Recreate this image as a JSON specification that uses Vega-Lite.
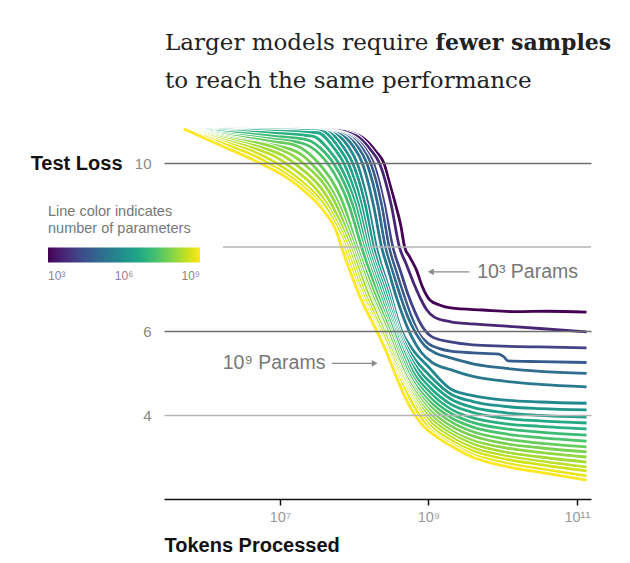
{
"$schema": "https://vega.github.io/schema/vega-lite/v6.json",
"width": 427,
"height": 378,
"autosize": {"type": "none"},
"padding": {"left": 164, "top": 121, "right": 39, "bottom": 64},
"background": "white",
"config": {
  "view": {"stroke": null},
  "axis": {"labelFont": "Liberation Sans", "titleFont": "Liberation Sans"},
  "legend": {"labelFont": "Liberation Sans", "titleFont": "Liberation Sans"}
},
"datasets": {
"curves": [
{"params":1e3,"tokens":5.13e5,"loss":10.81},{"params":1e3,"tokens":1.862e7,"loss":10.81},{"params":1e3,"tokens":5.623e7,"loss":10.79},{"params":1e3,"tokens":1.202e8,"loss":10.64},{"params":1e3,"tokens":1.995e8,"loss":10.26},{"params":1e3,"tokens":2.512e8,"loss":10.0},{"params":1e3,"tokens":3.02e8,"loss":9.5},{"params":1e3,"tokens":3.631e8,"loss":9.0},{"params":1e3,"tokens":4.266e8,"loss":8.5},{"params":1e3,"tokens":4.786e8,"loss":8.0},{"params":1e3,"tokens":5.623e8,"loss":7.76},{"params":1e3,"tokens":6.918e8,"loss":7.45},{"params":1e3,"tokens":8.318e8,"loss":7.05},{"params":1e3,"tokens":1.047e9,"loss":6.74},{"params":1e3,"tokens":1.413e9,"loss":6.62},{"params":1e3,"tokens":1.995e9,"loss":6.55},{"params":1e3,"tokens":5.37e9,"loss":6.5},{"params":1e3,"tokens":1.549e10,"loss":6.46},{"params":1e3,"tokens":3.981e10,"loss":6.47},{"params":1e3,"tokens":1.349e11,"loss":6.45},
{"params":4e3,"tokens":5.13e5,"loss":10.81},{"params":4e3,"tokens":1.778e7,"loss":10.81},{"params":4e3,"tokens":5.012e7,"loss":10.79},{"params":4e3,"tokens":1.072e8,"loss":10.65},{"params":4e3,"tokens":1.66e8,"loss":10.32},{"params":4e3,"tokens":2.188e8,"loss":10.0},{"params":4e3,"tokens":3.162e8,"loss":9.0},{"params":4e3,"tokens":4.074e8,"loss":8.0},{"params":4e3,"tokens":5.012e8,"loss":7.6},{"params":4e3,"tokens":6.31e8,"loss":7.15},{"params":4e3,"tokens":7.943e8,"loss":6.75},{"params":4e3,"tokens":9.55e8,"loss":6.5},{"params":4e3,"tokens":1.202e9,"loss":6.33},{"params":4e3,"tokens":1.995e9,"loss":6.22},{"params":4e3,"tokens":3.162e9,"loss":6.18},{"params":4e3,"tokens":1e10,"loss":6.12},{"params":4e3,"tokens":3.162e10,"loss":6.06},{"params":4e3,"tokens":1.349e11,"loss":5.98},
{"params":1.6e4,"tokens":5.13e5,"loss":10.81},{"params":1.6e4,"tokens":1.479e7,"loss":10.81},{"params":1.6e4,"tokens":3.89e7,"loss":10.79},{"params":1.6e4,"tokens":8.128e7,"loss":10.68},{"params":1.6e4,"tokens":1.38e8,"loss":10.36},{"params":1.6e4,"tokens":1.82e8,"loss":10.0},{"params":1.6e4,"tokens":2.57e8,"loss":9.0},{"params":1.6e4,"tokens":3.311e8,"loss":8.0},{"params":1.6e4,"tokens":4.169e8,"loss":7.45},{"params":1.6e4,"tokens":5.248e8,"loss":6.9},{"params":1.6e4,"tokens":6.607e8,"loss":6.45},{"params":1.6e4,"tokens":8.318e8,"loss":6.1},{"params":1.6e4,"tokens":1.122e9,"loss":5.86},{"params":1.6e4,"tokens":1.995e9,"loss":5.74},{"params":1.6e4,"tokens":3.981e9,"loss":5.67},{"params":1.6e4,"tokens":1e10,"loss":5.64},{"params":1.6e4,"tokens":3.162e10,"loss":5.62},{"params":1.6e4,"tokens":1.349e11,"loss":5.6},
{"params":5e4,"tokens":5.13e5,"loss":10.81},{"params":5e4,"tokens":1.318e7,"loss":10.81},{"params":5e4,"tokens":3.548e7,"loss":10.79},{"params":5e4,"tokens":7.413e7,"loss":10.69},{"params":5e4,"tokens":1.259e8,"loss":10.37},{"params":5e4,"tokens":1.66e8,"loss":10.0},{"params":5e4,"tokens":2.344e8,"loss":9.0},{"params":5e4,"tokens":2.951e8,"loss":8.0},{"params":5e4,"tokens":3.715e8,"loss":7.4},{"params":5e4,"tokens":4.677e8,"loss":6.85},{"params":5e4,"tokens":5.888e8,"loss":6.35},{"params":5e4,"tokens":7.413e8,"loss":5.95},{"params":5e4,"tokens":1e9,"loss":5.7},{"params":5e4,"tokens":1.413e9,"loss":5.58},{"params":5e4,"tokens":1.995e9,"loss":5.52},{"params":5e4,"tokens":3.981e9,"loss":5.48},{"params":5e4,"tokens":8.913e9,"loss":5.45},{"params":5e4,"tokens":1.047e10,"loss":5.38},{"params":5e4,"tokens":1.175e10,"loss":5.29},{"params":5e4,"tokens":3.162e10,"loss":5.27},{"params":5e4,"tokens":1.349e11,"loss":5.25},
{"params":1.26e5,"tokens":5.13e5,"loss":10.81},{"params":1.26e5,"tokens":1.148e7,"loss":10.81},{"params":1.26e5,"tokens":3.162e7,"loss":10.79},{"params":1.26e5,"tokens":6.607e7,"loss":10.7},{"params":1.26e5,"tokens":1.122e8,"loss":10.38},{"params":1.26e5,"tokens":1.479e8,"loss":10.0},{"params":1.26e5,"tokens":2.089e8,"loss":9.0},{"params":1.26e5,"tokens":2.63e8,"loss":8.0},{"params":1.26e5,"tokens":3.311e8,"loss":7.4},{"params":1.26e5,"tokens":4.169e8,"loss":6.85},{"params":1.26e5,"tokens":5.248e8,"loss":6.35},{"params":1.26e5,"tokens":6.761e8,"loss":5.95},{"params":1.26e5,"tokens":8.913e8,"loss":5.65},{"params":1.26e5,"tokens":1.259e9,"loss":5.47},{"params":1.26e5,"tokens":1.995e9,"loss":5.36},{"params":1.26e5,"tokens":3.981e9,"loss":5.22},{"params":1.26e5,"tokens":1e10,"loss":5.12},{"params":1.26e5,"tokens":3.162e10,"loss":5.04},{"params":1.26e5,"tokens":1.349e11,"loss":4.99},
{"params":2.5e5,"tokens":5.13e5,"loss":10.81},{"params":2.5e5,"tokens":1e7,"loss":10.81},{"params":2.5e5,"tokens":2.818e7,"loss":10.78},{"params":2.5e5,"tokens":5.754e7,"loss":10.71},{"params":2.5e5,"tokens":9.772e7,"loss":10.39},{"params":2.5e5,"tokens":1.288e8,"loss":10.0},{"params":2.5e5,"tokens":1.82e8,"loss":9.0},{"params":2.5e5,"tokens":2.344e8,"loss":8.0},{"params":2.5e5,"tokens":2.951e8,"loss":7.4},{"params":2.5e5,"tokens":3.715e8,"loss":6.8},{"params":2.5e5,"tokens":4.677e8,"loss":6.3},{"params":2.5e5,"tokens":6.026e8,"loss":5.85},{"params":2.5e5,"tokens":7.943e8,"loss":5.5},{"params":2.5e5,"tokens":1.122e9,"loss":5.25},{"params":2.5e5,"tokens":1.995e9,"loss":5.08},{"params":2.5e5,"tokens":3.981e9,"loss":4.92},{"params":2.5e5,"tokens":1e10,"loss":4.81},{"params":2.5e5,"tokens":3.162e10,"loss":4.73},{"params":2.5e5,"tokens":1.349e11,"loss":4.67},
{"params":6.3e5,"tokens":5.13e5,"loss":10.81},{"params":6.3e5,"tokens":8.913e6,"loss":10.8},{"params":6.3e5,"tokens":2.188e7,"loss":10.77},{"params":6.3e5,"tokens":4.898e7,"loss":10.72},{"params":6.3e5,"tokens":8.318e7,"loss":10.4},{"params":6.3e5,"tokens":1.096e8,"loss":10.0},{"params":6.3e5,"tokens":1.549e8,"loss":9.0},{"params":6.3e5,"tokens":1.995e8,"loss":8.0},{"params":6.3e5,"tokens":2.951e8,"loss":7.0},{"params":6.3e5,"tokens":4.365e8,"loss":6.0},{"params":6.3e5,"tokens":5.888e8,"loss":5.6},{"params":6.3e5,"tokens":1e9,"loss":5.15},{"params":6.3e5,"tokens":1.995e9,"loss":4.62},{"params":6.3e5,"tokens":3.981e9,"loss":4.46},{"params":6.3e5,"tokens":1e10,"loss":4.36},{"params":6.3e5,"tokens":3.162e10,"loss":4.31},{"params":6.3e5,"tokens":1.349e11,"loss":4.28},
{"params":1.26e6,"tokens":5.13e5,"loss":10.81},{"params":1.26e6,"tokens":7.943e6,"loss":10.8},{"params":1.26e6,"tokens":1.82e7,"loss":10.78},{"params":1.26e6,"tokens":4.266e7,"loss":10.74},{"params":1.26e6,"tokens":7.244e7,"loss":10.37},{"params":1.26e6,"tokens":9.55e7,"loss":10.0},{"params":1.26e6,"tokens":1.413e8,"loss":9.0},{"params":1.26e6,"tokens":1.82e8,"loss":8.0},{"params":1.26e6,"tokens":2.754e8,"loss":7.0},{"params":1.26e6,"tokens":4.074e8,"loss":6.0},{"params":1.26e6,"tokens":5.623e8,"loss":5.5},{"params":1.26e6,"tokens":1e9,"loss":4.97},{"params":1.26e6,"tokens":1.995e9,"loss":4.5},{"params":1.26e6,"tokens":3.981e9,"loss":4.32},{"params":1.26e6,"tokens":1e10,"loss":4.21},{"params":1.26e6,"tokens":3.162e10,"loss":4.15},{"params":1.26e6,"tokens":1.349e11,"loss":4.12},
{"params":2.5e6,"tokens":5.13e5,"loss":10.81},{"params":2.5e6,"tokens":3.162e6,"loss":10.79},{"params":2.5e6,"tokens":1.413e7,"loss":10.78},{"params":2.5e6,"tokens":3.715e7,"loss":10.75},{"params":2.5e6,"tokens":6.31e7,"loss":10.35},{"params":2.5e6,"tokens":8.318e7,"loss":10.0},{"params":2.5e6,"tokens":1.259e8,"loss":9.0},{"params":2.5e6,"tokens":1.66e8,"loss":8.0},{"params":2.5e6,"tokens":2.57e8,"loss":7.0},{"params":2.5e6,"tokens":3.89e8,"loss":6.0},{"params":2.5e6,"tokens":5.37e8,"loss":5.45},{"params":2.5e6,"tokens":7.943e8,"loss":5.0},{"params":2.5e6,"tokens":1e9,"loss":4.82},{"params":2.5e6,"tokens":1.995e9,"loss":4.38},{"params":2.5e6,"tokens":3.981e9,"loss":4.18},{"params":2.5e6,"tokens":1e10,"loss":4.06},{"params":2.5e6,"tokens":3.162e10,"loss":3.99},{"params":2.5e6,"tokens":1.349e11,"loss":3.95},
{"params":4e6,"tokens":5.13e5,"loss":10.81},{"params":4e6,"tokens":1.995e6,"loss":10.78},{"params":4e6,"tokens":7.943e6,"loss":10.76},{"params":4e6,"tokens":3.236e7,"loss":10.72},{"params":4e6,"tokens":5.495e7,"loss":10.33},{"params":4e6,"tokens":7.244e7,"loss":10.0},{"params":4e6,"tokens":1.148e8,"loss":9.0},{"params":4e6,"tokens":1.549e8,"loss":8.0},{"params":4e6,"tokens":2.399e8,"loss":7.0},{"params":4e6,"tokens":3.715e8,"loss":6.0},{"params":4e6,"tokens":5.012e8,"loss":5.45},{"params":4e6,"tokens":7.079e8,"loss":5.0},{"params":4e6,"tokens":1e9,"loss":4.69},{"params":4e6,"tokens":1.995e9,"loss":4.26},{"params":4e6,"tokens":3.981e9,"loss":4.06},{"params":4e6,"tokens":1e10,"loss":3.93},{"params":4e6,"tokens":3.162e10,"loss":3.86},{"params":4e6,"tokens":1.349e11,"loss":3.81},
{"params":6.3e6,"tokens":5.13e5,"loss":10.81},{"params":6.3e6,"tokens":1.995e6,"loss":10.76},{"params":6.3e6,"tokens":7.943e6,"loss":10.71},{"params":6.3e6,"tokens":2.754e7,"loss":10.64},{"params":6.3e6,"tokens":4.677e7,"loss":10.29},{"params":6.3e6,"tokens":6.166e7,"loss":10.0},{"params":6.3e6,"tokens":1.047e8,"loss":9.0},{"params":6.3e6,"tokens":1.445e8,"loss":8.0},{"params":6.3e6,"tokens":2.239e8,"loss":7.0},{"params":6.3e6,"tokens":3.548e8,"loss":6.0},{"params":6.3e6,"tokens":4.786e8,"loss":5.45},{"params":6.3e6,"tokens":6.31e8,"loss":5.0},{"params":6.3e6,"tokens":1e9,"loss":4.57},{"params":6.3e6,"tokens":1.995e9,"loss":4.14},{"params":6.3e6,"tokens":3.981e9,"loss":3.93},{"params":6.3e6,"tokens":1e10,"loss":3.8},{"params":6.3e6,"tokens":3.162e10,"loss":3.73},{"params":6.3e6,"tokens":1.349e11,"loss":3.67},
{"params":1.26e7,"tokens":5.13e5,"loss":10.81},{"params":1.26e7,"tokens":1.995e6,"loss":10.73},{"params":1.26e7,"tokens":7.943e6,"loss":10.64},{"params":1.26e7,"tokens":2.344e7,"loss":10.55},{"params":1.26e7,"tokens":3.981e7,"loss":10.26},{"params":1.26e7,"tokens":5.248e7,"loss":10.0},{"params":1.26e7,"tokens":9.55e7,"loss":9.0},{"params":1.26e7,"tokens":1.349e8,"loss":8.0},{"params":1.26e7,"tokens":2.089e8,"loss":7.0},{"params":1.26e7,"tokens":3.388e8,"loss":6.0},{"params":1.26e7,"tokens":4.467e8,"loss":5.45},{"params":1.26e7,"tokens":5.754e8,"loss":5.0},{"params":1.26e7,"tokens":1e9,"loss":4.46},{"params":1.26e7,"tokens":1.995e9,"loss":4.04},{"params":1.26e7,"tokens":3.981e9,"loss":3.82},{"params":1.26e7,"tokens":1e10,"loss":3.68},{"params":1.26e7,"tokens":3.162e10,"loss":3.59},{"params":1.26e7,"tokens":1.349e11,"loss":3.52},
{"params":2e7,"tokens":5.13e5,"loss":10.81},{"params":2e7,"tokens":1.995e6,"loss":10.69},{"params":2e7,"tokens":7.943e6,"loss":10.57},{"params":2e7,"tokens":1.995e7,"loss":10.47},{"params":2e7,"tokens":3.311e7,"loss":10.24},{"params":2e7,"tokens":4.365e7,"loss":10.0},{"params":2e7,"tokens":8.511e7,"loss":9.0},{"params":2e7,"tokens":1.259e8,"loss":8.0},{"params":2e7,"tokens":1.95e8,"loss":7.0},{"params":2e7,"tokens":3.162e8,"loss":6.0},{"params":2e7,"tokens":4.169e8,"loss":5.45},{"params":2e7,"tokens":5.37e8,"loss":5.0},{"params":2e7,"tokens":1e9,"loss":4.35},{"params":2e7,"tokens":1.995e9,"loss":3.94},{"params":2e7,"tokens":3.981e9,"loss":3.71},{"params":2e7,"tokens":1e10,"loss":3.56},{"params":2e7,"tokens":3.162e10,"loss":3.46},{"params":2e7,"tokens":1.349e11,"loss":3.38},
{"params":4e7,"tokens":5.13e5,"loss":10.81},{"params":4e7,"tokens":1.995e6,"loss":10.66},{"params":4e7,"tokens":7.943e6,"loss":10.51},{"params":4e7,"tokens":1.549e7,"loss":10.43},{"params":4e7,"tokens":2.512e7,"loss":10.21},{"params":4e7,"tokens":3.311e7,"loss":10.0},{"params":4e7,"tokens":7.244e7,"loss":9.0},{"params":4e7,"tokens":1.096e8,"loss":8.0},{"params":4e7,"tokens":1.778e8,"loss":7.0},{"params":4e7,"tokens":3.02e8,"loss":6.0},{"params":4e7,"tokens":5.012e8,"loss":5.0},{"params":4e7,"tokens":1e9,"loss":4.25},{"params":4e7,"tokens":1.995e9,"loss":3.84},{"params":4e7,"tokens":3.981e9,"loss":3.6},{"params":4e7,"tokens":1e10,"loss":3.44},{"params":4e7,"tokens":3.162e10,"loss":3.33},{"params":4e7,"tokens":1.349e11,"loss":3.24},
{"params":6.3e7,"tokens":5.13e5,"loss":10.81},{"params":6.3e7,"tokens":1.995e6,"loss":10.62},{"params":6.3e7,"tokens":7.943e6,"loss":10.43},{"params":6.3e7,"tokens":1.202e7,"loss":10.36},{"params":6.3e7,"tokens":1.995e7,"loss":10.19},{"params":6.3e7,"tokens":2.63e7,"loss":10.0},{"params":6.3e7,"tokens":6.31e7,"loss":9.0},{"params":6.3e7,"tokens":1.023e8,"loss":8.0},{"params":6.3e7,"tokens":1.622e8,"loss":7.0},{"params":6.3e7,"tokens":2.818e8,"loss":6.0},{"params":6.3e7,"tokens":4.786e8,"loss":5.0},{"params":6.3e7,"tokens":1e9,"loss":4.15},{"params":6.3e7,"tokens":1.995e9,"loss":3.74},{"params":6.3e7,"tokens":3.981e9,"loss":3.5},{"params":6.3e7,"tokens":1e10,"loss":3.33},{"params":6.3e7,"tokens":3.162e10,"loss":3.22},{"params":6.3e7,"tokens":1.349e11,"loss":3.12},
{"params":1e8,"tokens":5.13e5,"loss":10.81},{"params":1e8,"tokens":1.995e6,"loss":10.59},{"params":1e8,"tokens":9.12e6,"loss":10.35},{"params":1e8,"tokens":1.549e7,"loss":10.16},{"params":1e8,"tokens":2.042e7,"loss":10.0},{"params":1e8,"tokens":5.754e7,"loss":9.0},{"params":1e8,"tokens":9.55e7,"loss":8.0},{"params":1e8,"tokens":1.514e8,"loss":7.0},{"params":1e8,"tokens":2.63e8,"loss":6.0},{"params":1e8,"tokens":4.467e8,"loss":5.0},{"params":1e8,"tokens":1e9,"loss":4.06},{"params":1e8,"tokens":1.995e9,"loss":3.64},{"params":1e8,"tokens":3.981e9,"loss":3.39},{"params":1e8,"tokens":1e10,"loss":3.23},{"params":1e8,"tokens":3.162e10,"loss":3.11},{"params":1e8,"tokens":1.349e11,"loss":3.0},
{"params":1.6e8,"tokens":5.13e5,"loss":10.81},{"params":1.6e8,"tokens":1.995e6,"loss":10.56},{"params":1.6e8,"tokens":6.918e6,"loss":10.32},{"params":1.6e8,"tokens":1.175e7,"loss":10.15},{"params":1.6e8,"tokens":1.549e7,"loss":10.0},{"params":1.6e8,"tokens":5.012e7,"loss":9.0},{"params":1.6e8,"tokens":8.913e7,"loss":8.0},{"params":1.6e8,"tokens":1.445e8,"loss":7.0},{"params":1.6e8,"tokens":2.512e8,"loss":6.0},{"params":1.6e8,"tokens":4.266e8,"loss":5.0},{"params":1.6e8,"tokens":1e9,"loss":3.97},{"params":1.6e8,"tokens":1.995e9,"loss":3.56},{"params":1.6e8,"tokens":3.981e9,"loss":3.31},{"params":1.6e8,"tokens":1e10,"loss":3.13},{"params":1.6e8,"tokens":3.162e10,"loss":3.0},{"params":1.6e8,"tokens":1.349e11,"loss":2.88},
{"params":2.5e8,"tokens":5.13e5,"loss":10.81},{"params":2.5e8,"tokens":1.995e6,"loss":10.52},{"params":2.5e8,"tokens":5.248e6,"loss":10.31},{"params":2.5e8,"tokens":8.913e6,"loss":10.14},{"params":2.5e8,"tokens":1.175e7,"loss":10.0},{"params":2.5e8,"tokens":4.365e7,"loss":9.0},{"params":2.5e8,"tokens":8.318e7,"loss":8.0},{"params":2.5e8,"tokens":1.318e8,"loss":7.0},{"params":2.5e8,"tokens":2.344e8,"loss":6.0},{"params":2.5e8,"tokens":4.074e8,"loss":5.0},{"params":2.5e8,"tokens":1e9,"loss":3.88},{"params":2.5e8,"tokens":1.995e9,"loss":3.48},{"params":2.5e8,"tokens":3.981e9,"loss":3.22},{"params":2.5e8,"tokens":1e10,"loss":3.04},{"params":2.5e8,"tokens":3.162e10,"loss":2.9},{"params":2.5e8,"tokens":1.349e11,"loss":2.76},
{"params":4e8,"tokens":5.13e5,"loss":10.81},{"params":4e8,"tokens":1.995e6,"loss":10.47},{"params":4e8,"tokens":3.981e6,"loss":10.3},{"params":4e8,"tokens":6.761e6,"loss":10.12},{"params":4e8,"tokens":8.913e6,"loss":10.0},{"params":4e8,"tokens":1.995e7,"loss":9.55},{"params":4e8,"tokens":3.981e7,"loss":9.0},{"params":4e8,"tokens":7.762e7,"loss":8.0},{"params":4e8,"tokens":1.23e8,"loss":7.0},{"params":4e8,"tokens":2.188e8,"loss":6.0},{"params":4e8,"tokens":3.89e8,"loss":5.0},{"params":4e8,"tokens":1e9,"loss":3.79},{"params":4e8,"tokens":1.995e9,"loss":3.4},{"params":4e8,"tokens":3.981e9,"loss":3.14},{"params":4e8,"tokens":1e10,"loss":2.96},{"params":4e8,"tokens":3.162e10,"loss":2.82},{"params":4e8,"tokens":1.349e11,"loss":2.67},
{"params":6.3e8,"tokens":5.13e5,"loss":10.81},{"params":6.3e8,"tokens":1.995e6,"loss":10.42},{"params":6.3e8,"tokens":5.248e6,"loss":10.12},{"params":6.3e8,"tokens":6.918e6,"loss":10.0},{"params":6.3e8,"tokens":1.585e7,"loss":9.6},{"params":6.3e8,"tokens":3.548e7,"loss":9.0},{"params":6.3e8,"tokens":7.244e7,"loss":8.0},{"params":6.3e8,"tokens":1.148e8,"loss":7.0},{"params":6.3e8,"tokens":2.089e8,"loss":6.0},{"params":6.3e8,"tokens":3.715e8,"loss":5.0},{"params":6.3e8,"tokens":1e9,"loss":3.7},{"params":6.3e8,"tokens":1.995e9,"loss":3.32},{"params":6.3e8,"tokens":3.981e9,"loss":3.06},{"params":6.3e8,"tokens":1e10,"loss":2.87},{"params":6.3e8,"tokens":3.162e10,"loss":2.72},{"params":6.3e8,"tokens":1.349e11,"loss":2.55},
{"params":1e9,"tokens":5.13e5,"loss":10.81},{"params":1e9,"tokens":1.549e6,"loss":10.43},{"params":1e9,"tokens":5.37e6,"loss":10.0},{"params":1e9,"tokens":1.096e7,"loss":9.71},{"params":1e9,"tokens":2.042e7,"loss":9.36},{"params":1e9,"tokens":3.802e7,"loss":8.88},{"params":1e9,"tokens":5.888e7,"loss":8.33},{"params":1e9,"tokens":6.761e7,"loss":8.0},{"params":1e9,"tokens":8.71e7,"loss":7.45},{"params":1e9,"tokens":1.202e8,"loss":6.81},{"params":1e9,"tokens":1.622e8,"loss":6.33},{"params":1e9,"tokens":1.995e8,"loss":6.02},{"params":1e9,"tokens":2.754e8,"loss":5.48},{"params":1e9,"tokens":3.715e8,"loss":4.9},{"params":1e9,"tokens":4.786e8,"loss":4.45},{"params":1e9,"tokens":6.166e8,"loss":4.08},{"params":1e9,"tokens":8.318e8,"loss":3.76},{"params":1e9,"tokens":1.288e9,"loss":3.48},{"params":1e9,"tokens":2.138e9,"loss":3.24},{"params":1e9,"tokens":3.89e9,"loss":3.0},{"params":1e9,"tokens":1.23e10,"loss":2.76},{"params":1e9,"tokens":4.266e10,"loss":2.6},{"params":1e9,"tokens":1.349e11,"loss":2.45}
],
"grid8": [{"tokens": 1.714e6, "tokens2": 1.549e11, "loss": 8}],
"arrows": [
{"label": "10³ Params", "tokens": 3.58e9, "tokens2": 1.08e9, "loss": 7.41},
{"label": "10⁹ Params", "tokens": 5.0e7, "tokens2": 1.89e8, "loss": 5.23}
],
"notes": [
{"label": "10³ Params", "tokens": 2.17e10, "loss": 7.41},
{"label": "10⁹ Params", "tokens": 8.36e6, "loss": 5.23}
],
"heading": [
{"text": "Larger models require", "tokens": 2.847e5, "loss": 12.69},
{"text": "to reach the same performance", "tokens": 2.847e5, "loss": 11.79}
],
"headingBold": [{"text": "fewer samples", "tokens": 1.245e9, "loss": 12.69}]
},
"layer": [
{
  "data": {"name": "curves"},
  "transform": [
    {"fold": ["loss", "loss"], "as": ["metric", "value"]},
    {"window": [{"op": "row_number", "as": "pass"}], "groupby": ["params", "tokens"]}
  ],
  "mark": {"type": "line", "interpolate": "monotone"},
  "encoding": {
    "x": {"field": "tokens", "type": "quantitative",
      "scale": {"type": "log", "domain": [275400, 154900000000], "nice": false},
      "axis": {"title": "Tokens Processed", "values": [1e7, 1e9, 1e11],
        "labelExpr": "datum.value < 1e8 ? '10⁷' : datum.value < 1e10 ? '10⁹' : '10¹¹'",
        "grid": false, "domainColor": "#111111", "domainWidth": 1.5, "tickColor": "#111111", "tickWidth": 1.5, "tickSize": 6,
        "labelColor": "#999999", "labelFontSize": 14.5, "labelPadding": 5,
        "titleAnchor": "start", "titleAlign": "left", "titleFontSize": 20, "titleFontWeight": "bold", "titleColor": "#111111", "titlePadding": 12}},
    "y": {"field": "loss", "type": "quantitative",
      "scale": {"domain": [2, 11], "nice": false, "zero": false},
      "axis": {"title": "Test Loss", "values": [4, 6, 10], "grid": true,
        "gridColor": {"condition": {"test": "datum.value == 4", "value": "#b4b4b4"}, "value": "#6e6e6e"},
        "gridWidth": 1.3, "domain": false, "ticks": false, "tickSize": 0,
        "labelColor": "#888888", "labelFontSize": 15, "labelPadding": 13,
        "titleAngle": 0, "titleAlign": "right", "titleBaseline": "middle", "titleX": -42, "titleY": 42,
        "titleFontSize": 20, "titleFontWeight": "bold", "titleColor": "#111111", "zindex": 1}},
    "color": {"field": "params", "type": "quantitative",
      "condition": {"test": "datum.pass == 1", "value": "white"},
      "scale": {"type": "log", "scheme": "viridis", "domain": [1000, 1000000000]},
      "legend": {"orient": "none", "legendX": -116, "legendY": 84, "direction": "horizontal",
        "gradientLength": 152, "gradientThickness": 15, "gradientStrokeWidth": 0,
        "title": ["Line color indicates", "number of parameters"], "titleFontSize": 14.5, "titleFontWeight": "normal",
        "titleColor": "#777777", "titleLineHeight": 17, "titlePadding": 11, "titleAnchor": "start", "titleLimit": 300,
        "values": [1000, 1000000, 1000000000],
        "labelExpr": "datum.value < 1e5 ? '10³' : datum.value < 1e8 ? '10⁶' : '10⁹'",
        "labelFontSize": 12, "labelColor": "#888888", "labelOffset": 8, "padding": 0}},
    "strokeWidth": {"field": "pass", "type": "ordinal", "scale": {"domain": [1, 2], "range": [4.8, 2.8]}, "legend": null},
    "detail": [{"field": "params", "type": "nominal"}, {"field": "pass", "type": "ordinal"}]
  }
},
{
  "data": {"name": "grid8"},
  "mark": {"type": "rule", "color": "#b4b4b4", "strokeWidth": 1.3},
  "encoding": {
    "x": {"field": "tokens", "type": "quantitative"},
    "x2": {"field": "tokens2"},
    "y": {"field": "loss", "type": "quantitative"}
  }
},
{
  "data": {"name": "arrows"},
  "mark": {"type": "rule", "color": "#8a8a8a", "strokeWidth": 1.2},
  "encoding": {
    "x": {"field": "tokens", "type": "quantitative"},
    "x2": {"field": "tokens2"},
    "y": {"field": "loss", "type": "quantitative"}
  }
},
{
  "data": {"name": "arrows"},
  "mark": {"type": "point", "filled": true, "size": 45, "color": "#8a8a8a", "opacity": 1},
  "encoding": {
    "x": {"field": "tokens2", "type": "quantitative"},
    "y": {"field": "loss", "type": "quantitative"},
    "shape": {"field": "label", "type": "nominal", "scale": {"domain": ["10³ Params", "10⁹ Params"], "range": ["triangle-left", "triangle-right"]}, "legend": null}
  }
},
{
  "data": {"name": "notes"},
  "mark": {"type": "text", "font": "Liberation Sans", "fontSize": 19.5, "color": "#777777", "align": "center", "baseline": "middle"},
  "encoding": {
    "x": {"field": "tokens", "type": "quantitative"},
    "y": {"field": "loss", "type": "quantitative"},
    "text": {"field": "label"}
  }
},
{
  "data": {"name": "heading"},
  "mark": {"type": "text", "font": "DejaVu Serif", "fontSize": 23, "fontWeight": "normal", "color": "#222222", "align": "left", "baseline": "alphabetic"},
  "encoding": {
    "x": {"field": "tokens", "type": "quantitative"},
    "y": {"field": "loss", "type": "quantitative"},
    "text": {"field": "text"}
  }
},
{
  "data": {"name": "headingBold"},
  "mark": {"type": "text", "font": "DejaVu Serif", "fontSize": 22, "fontWeight": "bold", "color": "#222222", "align": "left", "baseline": "alphabetic"},
  "encoding": {
    "x": {"field": "tokens", "type": "quantitative"},
    "y": {"field": "loss", "type": "quantitative"},
    "text": {"field": "text"}
  }
}
]
}
